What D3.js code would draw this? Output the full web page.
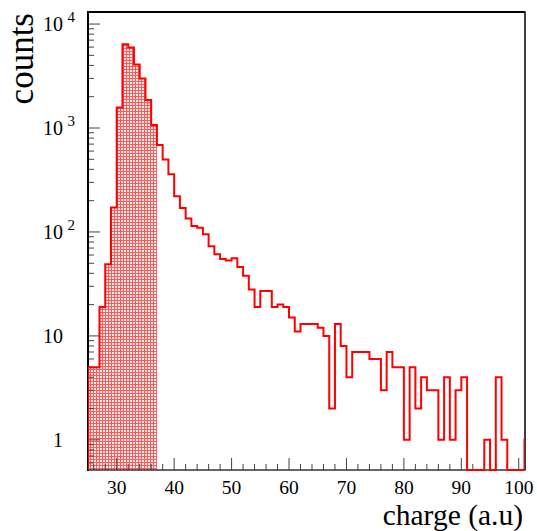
<!DOCTYPE html>
<html>
<head>
<meta charset="utf-8">
<script src="https://cdn.jsdelivr.net/npm/d3@7"></script>
<style>
  html, body { margin: 0; padding: 0; background: #fff; }
  svg { display: block; }
  text { font-family: "Liberation Serif", "DejaVu Serif", serif; fill: #000; }
</style>
</head>
<body>
<svg id="chart" width="537" height="531"></svg>
<script>
// ---- data ----
const binStarts = [25,26,27,28,29,30,31,32,33,34,35,36,37,38,39,40,41,42,43,44,45,46,47,48,49,
  50,51,52,53,54,55,56,57,58,59,60,61,62,63,64,65,66,67,68,69,70,71,72,73,74,75,
  76,77,78,79,80,81,82,83,84,85,86,87,88,89,90,91,92,93,94,95,96,97,98,99,100,101];
const counts = [5,5,19,49,172,1578,6380,5950,4090,3000,1855,1067,685,499,360,220,170,135,114,110,95,73,61,55,53,
  56,46,38,28,19,27,27,19,20,19,15,11,13,13,13,12,10,2,13,8,4,7,7,7,6,6,
  3,7,5,5,1,5,2,4,3,3,1,4,1,3,4,0,0,0,1,0,4,1,0,0,0,1];
const binWidth = 1;
const fillUpTo = 37;           // shaded region: bins below this charge
const xDomain = [25, 101];
const yDomain = [0.513, 13060];
const xTickMajor = [30, 40, 50, 60, 70, 80, 90, 100];
const yTickMajor = [1, 10, 100, 1000, 10000];
const yTickLabels = [["1", ""], ["10", ""], ["10", "2"], ["10", "3"], ["10", "4"]];
const xTitle = "charge (a.u)";
const yTitle = "counts";

// ---- layout ----
const L = 88, R = 524.5, T = 12, B = 470;
const svg = d3.select("#chart");
const x = d3.scaleLinear().domain(xDomain).range([L, R]);
const y = d3.scaleLog().domain(yDomain).range([B, T]);
const yv = v => v > 0 ? y(v) : B;

const defs = svg.append("defs");
defs.append("clipPath").attr("id", "clip")
  .append("rect").attr("x", L).attr("y", T).attr("width", R - L).attr("height", B - T + 1.5);
const pat = defs.append("pattern").attr("id", "hatch").attr("patternUnits", "userSpaceOnUse")
  .attr("width", 3).attr("height", 3);
pat.append("rect").attr("width", 3).attr("height", 3).attr("fill", "#ffffff");
pat.append("rect").attr("x", 0).attr("y", 0).attr("width", 3).attr("height", 1).attr("fill", "#ff5a5a");
pat.append("rect").attr("x", 0).attr("y", 0).attr("width", 1).attr("height", 3).attr("fill", "#ff5a5a");
pat.append("rect").attr("x", 1.5).attr("y", 1.5).attr("width", 1).attr("height", 1).attr("fill", "#ffb4b4");

const bins = binStarts.map((s, i) => ({ x0: s, x1: s + binWidth, v: counts[i] }));
const g = svg.append("g").attr("clip-path", "url(#clip)");

// filled area
const fb = bins.filter(b => b.x1 <= fillUpTo);
let fp = `M${x(fb[0].x0)},${B}`;
fb.forEach(b => { fp += `L${x(b.x0)},${yv(b.v)}L${x(b.x1)},${yv(b.v)}`; });
fp += `L${x(fb[fb.length - 1].x1)},${B}Z`;
g.append("path").attr("d", fp).attr("fill", "url(#hatch)").attr("stroke", "none");

// ---- axes ----
const yMinor = [];
[0.1, 1, 10, 100, 1000].forEach(d => { for (let k = 2; k <= 9; k++) yMinor.push(d * k); });
const yAxisG = svg.append("g");
yAxisG.selectAll("line.minor").data(yMinor.filter(v => v >= yDomain[0] && v <= yDomain[1]))
  .join("line").attr("x1", L).attr("x2", L + 6).attr("y1", d => y(d)).attr("y2", d => y(d))
  .attr("stroke", "#444").attr("stroke-width", 1);
yAxisG.selectAll("line.major").data(yTickMajor).join("line")
  .attr("x1", L).attr("x2", L + 12).attr("y1", d => y(d)).attr("y2", d => y(d))
  .attr("stroke", "#444").attr("stroke-width", 1);
yTickMajor.forEach((v, i) => {
  const t = yAxisG.append("text").attr("y", y(v) + 7).attr("font-size", 20);
  if (yTickLabels[i][1]) {
    t.attr("x", 43).attr("text-anchor", "start").text(yTickLabels[i][0]);
    yAxisG.append("text").attr("x", 67.5).attr("y", y(v) - 2).attr("font-size", 15).text(yTickLabels[i][1]);
  } else {
    t.attr("x", 63).attr("text-anchor", "end").text(yTickLabels[i][0]);
  }
});

const xMinor = [];
for (let v = 26; v <= 100; v += 2) if (!xTickMajor.includes(v)) xMinor.push(v);
const xAxisG = svg.append("g");
xAxisG.selectAll("line.minor").data(xMinor).join("line")
  .attr("x1", d => x(d)).attr("x2", d => x(d)).attr("y1", B).attr("y2", B - 6)
  .attr("stroke", "#444").attr("stroke-width", 1);
xAxisG.selectAll("line.major").data(xTickMajor).join("line")
  .attr("x1", d => x(d)).attr("x2", d => x(d)).attr("y1", B).attr("y2", B - 12)
  .attr("stroke", "#444").attr("stroke-width", 1);
xAxisG.selectAll("text").data(xTickMajor).join("text")
  .attr("x", d => x(d)).attr("y", 493.5).attr("text-anchor", "middle").attr("font-size", 19.5)
  .text(d => d);

// frame
svg.append("line").attr("x1", L).attr("x2", R + 1).attr("y1", T).attr("y2", T).attr("stroke", "#000").attr("stroke-width", 2);
svg.append("line").attr("x1", R + 0.5).attr("x2", R + 0.5).attr("y1", T).attr("y2", B).attr("stroke", "#000").attr("stroke-width", 1.5);
svg.append("line").attr("x1", L).attr("x2", L).attr("y1", T - 1).attr("y2", B + 1).attr("stroke", "#000").attr("stroke-width", 2);
svg.append("line").attr("x1", L).attr("x2", R + 1).attr("y1", B).attr("y2", B).attr("stroke", "#333").attr("stroke-width", 1.5);

// outline (on top, so empty bins show red along the baseline)
let op = `M${x(bins[0].x0)},${B}`;
bins.forEach(b => { op += `L${x(b.x0)},${yv(b.v)}L${x(b.x1)},${yv(b.v)}`; });
op += `L${x(bins[bins.length - 1].x1)},${B}`;
svg.append("path").attr("d", op).attr("fill", "none").attr("stroke", "#ff0000")
  .attr("stroke-width", 2).attr("stroke-linejoin", "miter").attr("clip-path", "url(#clip)");

// titles
svg.append("text").attr("x", 523).attr("y", 524.5).attr("text-anchor", "end")
  .attr("font-size", 29.5).text(xTitle);
svg.append("text").attr("transform", "translate(33,13) rotate(-90)").attr("text-anchor", "end")
  .attr("font-size", 35).text(yTitle);
</script>
</body>
</html>
